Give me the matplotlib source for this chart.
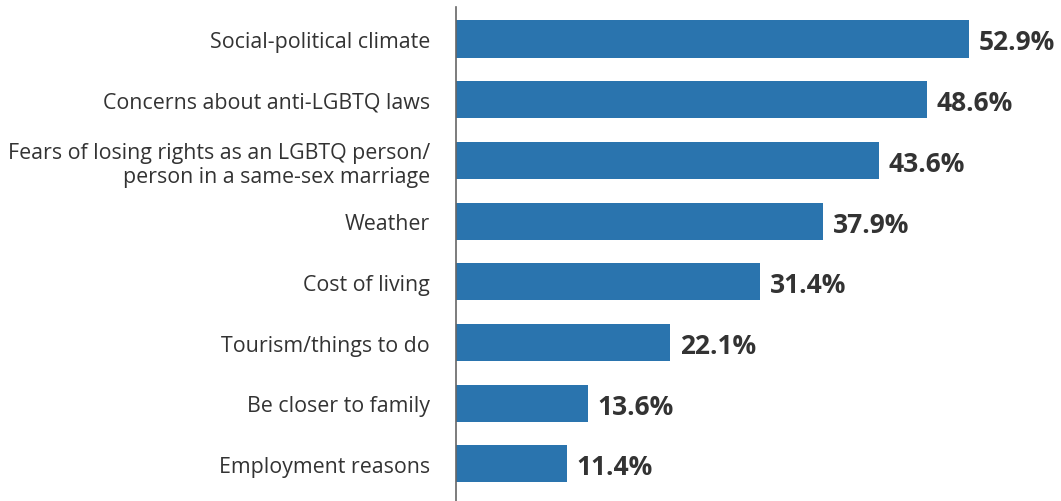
import matplotlib.pyplot as plt

plt.rcParams['font.family'] = ['Open Sans', 'DejaVu Sans']

reasons = [
    "Social-political climate",
    "Concerns about anti-LGBTQ laws",
    "Fears of losing rights as an LGBTQ person/\nperson in a same-sex marriage",
    "Weather",
    "Cost of living",
    "Tourism/things to do",
    "Be closer to family",
    "Employment reasons",
]
shares = [52.9, 48.6, 43.6, 37.9, 31.4, 22.1, 13.6, 11.4]

fig = plt.figure(figsize=(10.61, 5.02), dpi=100)
ax = fig.add_axes([456 / 1061, 0.0, 605 / 1061, 494 / 502])

pos = list(range(len(reasons)))
ax.barh(pos, shares, height=0.61, color="#2a74ae")

for y, v in zip(pos, shares):
    ax.text(v + 1.0, y, f"{v}%", va="center_baseline", ha="left",
            fontsize=19, fontweight="bold", color="#333333")

ax.set_xlim(0, 62.4)
ax.set_ylim(7.61, -0.527)
ax.set_yticks(pos)
ax.set_yticklabels(reasons, fontsize=15.4, color="#333333", ha="right",
                   linespacing=1.2)
ax.tick_params(axis="y", length=0, pad=18.7)
ax.set_xticks([])
for s in ["top", "right", "bottom"]:
    ax.spines[s].set_visible(False)
ax.spines["left"].set_color("#666666")
ax.spines["left"].set_linewidth(1.2)

fig.savefig("out.png", dpi=100)
